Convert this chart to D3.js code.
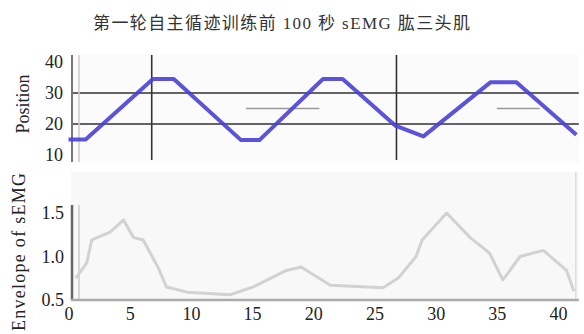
<!DOCTYPE html>
<html><head><meta charset="utf-8">
<script src="https://cdn.jsdelivr.net/npm/d3@7"></script>
<style>body{margin:0;background:#fff}svg{display:block}
.serif{font-family:"Liberation Serif","Times New Roman","DejaVu Serif",serif}</style>
</head><body>
<script>
const title = "第一轮自主循迹训练前 100 秒 sEMG 肱三头肌";
const xTicks = [0, 5, 10, 15, 20, 25, 30, 35, 40];
const posTicks = [10, 20, 30, 40];
const envTicks = [0.5, 1.0, 1.5];
const posT = [0, 1.4, 6.9, 8.6, 14.1, 15.6, 20.8, 22.4, 26.7, 29.0, 34.5, 36.6, 41.5];
const posV = [15, 15, 34.5, 34.5, 14.8, 14.8, 34.5, 34.5, 19.5, 16, 33.5, 33.5, 16.5];
const envT = [0.6, 1.5, 1.9, 3.4, 4.5, 5.3, 6.1, 7.3, 8.0, 9.7, 13.2, 15.1, 17.8, 19.0, 21.4, 25.7, 27.0, 28.4, 28.9, 30.9, 32.8, 34.4, 35.5, 36.9, 38.8, 40.7, 41.3];
const envV = [0.75, 0.93, 1.19, 1.28, 1.42, 1.22, 1.19, 0.88, 0.65, 0.59, 0.56, 0.65, 0.84, 0.88, 0.67, 0.64, 0.76, 1.0, 1.19, 1.5, 1.22, 1.04, 0.73, 1.0, 1.07, 0.84, 0.6];
const hRefs = [20, 30];
const vRefs = [6.8, 26.8];
const midSegT0 = [14.5, 35.0];
const midSegT1 = [20.5, 38.5];
const midSegV = [25, 25];

(function () {
const W = 584, H = 334;
const svg = d3.select("body").append("svg").attr("width", W).attr("height", H);
const defs = svg.append("defs");
defs.append("filter").attr("id", "blur").append("feGaussianBlur").attr("stdDeviation", 0.7);

const x = d3.scaleLinear().domain([0, 40]).range([68.5, 558]);
const yP = d3.scaleLinear().domain([10, 40]).range([155, 62]);
const yE = d3.scaleLinear().domain([0.5, 1.5]).range([300, 213]);
const xL = 71, xR = x(41.7);

svg.append("rect").attr("x", xL).attr("y", 55).attr("width", xR - xL).attr("height", 108).attr("fill", "#fbfbfb");
svg.append("rect").attr("x", xL).attr("y", 172).attr("width", xR - xL).attr("height", 128).attr("fill", "#f8f8f8");

svg.append("text").attr("class", "serif").attr("x", 93).attr("y", 29).attr("textLength", 377).attr("lengthAdjust", "spacing")
  .style("font-family", "'Liberation Serif','Noto Sans CJK SC',serif").attr("font-size", 17).attr("fill", "#333").text(title);

const gTop = svg.append("g").attr("filter", "url(#blur)");
gTop.selectAll(".h").data(hRefs).join("line").attr("x1", xL).attr("x2", xR)
  .attr("y1", d => yP(d)).attr("y2", d => yP(d)).attr("stroke", "#333").attr("stroke-width", 1.6);
gTop.selectAll(".v").data(vRefs).join("line").attr("x1", d => x(d)).attr("x2", d => x(d))
  .attr("y1", 55).attr("y2", 160).attr("stroke", "#333").attr("stroke-width", 1.6);
gTop.selectAll(".m").data(midSegV).join("line").attr("x1", (d, i) => x(midSegT0[i])).attr("x2", (d, i) => x(midSegT1[i]))
  .attr("y1", d => yP(d)).attr("y2", d => yP(d)).attr("stroke", "#999").attr("stroke-width", 1.5);
gTop.append("line").attr("x1", xL + 1).attr("x2", xL + 1).attr("y1", 55).attr("y2", 162).attr("stroke", "#777").attr("stroke-width", 2);
gTop.append("line").attr("x1", xL + 8).attr("x2", xL + 8).attr("y1", 55).attr("y2", 162).attr("stroke", "#ccc").attr("stroke-width", 1.5);

const posLine = d3.line().x((d, i) => x(posT[i])).y(d => yP(d));
gTop.append("path").datum(posV).attr("d", posLine).attr("fill", "none")
  .attr("stroke", "#4a40d8").attr("stroke-width", 4).attr("stroke-linejoin", "round").attr("opacity", 0.9);

const axP = d3.axisLeft(yP).tickValues(posTicks).tickSize(0).tickPadding(8).tickFormat(d3.format("d"));
const gP = svg.append("g").attr("transform", `translate(${xL},0)`).call(axP);
gP.select(".domain").remove();
gP.selectAll("text").attr("class", "serif").attr("font-family", null).attr("font-size", 18).attr("fill", "#222");
gP.attr("font-family", null);

const gBot = svg.append("g").attr("filter", "url(#blur)");
gBot.append("line").attr("x1", xL + 1).attr("x2", xL + 1).attr("y1", 205).attr("y2", 300).attr("stroke", "#666").attr("stroke-width", 2.5);
gBot.append("line").attr("x1", xL + 8).attr("x2", xL + 8).attr("y1", 205).attr("y2", 300).attr("stroke", "#ccc").attr("stroke-width", 1.5);
gBot.append("line").attr("x1", xR - 3).attr("x2", xR - 3).attr("y1", 172).attr("y2", 300).attr("stroke", "#ddd").attr("stroke-width", 1.5);
gBot.append("line").attr("x1", xL).attr("x2", xR).attr("y1", 300).attr("y2", 300).attr("stroke", "#aaa").attr("stroke-width", 2.5);
const envLine = d3.line().x((d, i) => x(envT[i])).y(d => yE(d));
gBot.append("path").datum(envV).attr("d", envLine).attr("fill", "none")
  .attr("stroke", "#d2d2d2").attr("stroke-width", 3).attr("stroke-linejoin", "round");

const axE = d3.axisLeft(yE).tickValues(envTicks).tickSize(0).tickPadding(7).tickFormat(d3.format(".1f"));
const gE = svg.append("g").attr("transform", `translate(${xL},0)`).call(axE);
gE.select(".domain").remove();
gE.attr("font-family", null);
gE.selectAll("text").attr("class", "serif").attr("font-size", 18).attr("fill", "#222");

const axX = d3.axisBottom(x).tickValues(xTicks).tickSize(0).tickPadding(5);
const gX = svg.append("g").attr("transform", "translate(0,302)").call(axX);
gX.select(".domain").remove();
gX.attr("font-family", null);
gX.selectAll("text").attr("class", "serif").attr("font-size", 18).attr("fill", "#222");

svg.append("text").attr("class", "serif").attr("transform", "translate(29,104) rotate(-90)").attr("text-anchor", "middle")
  .attr("font-size", 18).attr("fill", "#222").text("Position");
svg.append("text").attr("class", "serif").attr("transform", "translate(25,331) rotate(-90)").attr("textLength", 158).attr("lengthAdjust", "spacing")
  .attr("font-size", 18).attr("fill", "#222").text("Envelope of sEMG");
})();
</script>
</body></html>
